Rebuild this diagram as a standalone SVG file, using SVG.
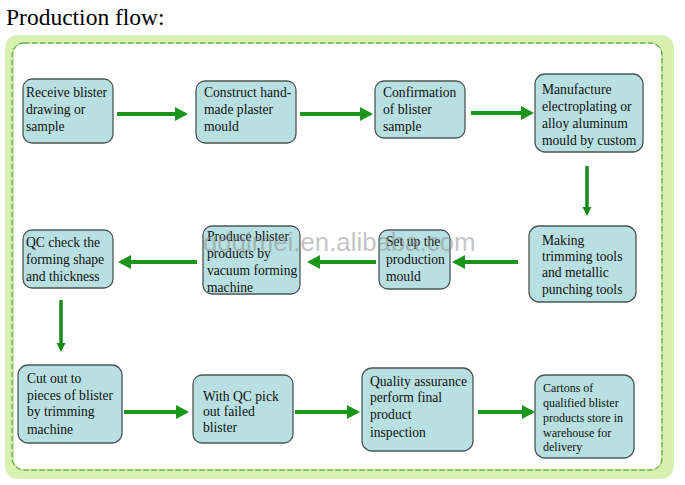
<svg xmlns="http://www.w3.org/2000/svg" width="685" height="485" viewBox="0 0 685 485">
<defs>
<style>
.node rect{fill:#b8dfe2;stroke:#4d5656;stroke-width:1.3}
.node text{fill:#111}
.conn line{stroke:#1b961b;stroke-width:4;fill:none}
.conn line.v{stroke:#178a1a;stroke-width:3.5}
</style>
<marker id="ah" markerUnits="userSpaceOnUse" markerWidth="14" markerHeight="14" refX="10" refY="7" orient="auto" viewBox="0 0 14 14">
<path d="M0,0 L13,7 L0,14 z" fill="#1b961b"/>
</marker>
<marker id="av" markerUnits="userSpaceOnUse" markerWidth="10" markerHeight="10" refX="6" refY="4.5" orient="auto" viewBox="0 0 10 10">
<path d="M0,0 L9,4.5 L0,9 z" fill="#178a1a"/>
</marker>
</defs>
<rect x="0" y="0" width="685" height="485" fill="#ffffff"/>
<text x="6" y="25" font-family="Liberation Serif,'Times New Roman',serif" font-size="23.5" fill="#000">Production flow:</text>
<g id="frame">
<rect x="5" y="35" width="669" height="444" rx="13" fill="#d8f1b3"/>
<rect x="13" y="43" width="649" height="427" rx="11" fill="#ffffff" stroke="#bfe38f" stroke-width="1.5"/>
<rect x="12" y="43" width="650" height="427" rx="12" fill="none" stroke="#3d9a2a" stroke-width="1" stroke-dasharray="5 3"/>
</g>
<g id="connectors" class="conn">
<line x1="117" y1="114" x2="185" y2="114" marker-end="url(#ah)"/>
<line x1="300" y1="114" x2="370" y2="114" marker-end="url(#ah)"/>
<line x1="471" y1="113" x2="531" y2="113" marker-end="url(#ah)"/>
<line class="v" x1="587" y1="166" x2="587" y2="213" marker-end="url(#av)"/>
<line x1="518" y1="262" x2="455" y2="262" marker-end="url(#ah)"/>
<line x1="376" y1="262" x2="310" y2="262" marker-end="url(#ah)"/>
<line x1="197" y1="262" x2="121" y2="262" marker-end="url(#ah)"/>
<line class="v" x1="61" y1="300" x2="61" y2="349" marker-end="url(#av)"/>
<line x1="124" y1="412" x2="186" y2="412" marker-end="url(#ah)"/>
<line x1="295" y1="412" x2="357" y2="412" marker-end="url(#ah)"/>
<line x1="478" y1="412" x2="532" y2="412" marker-end="url(#ah)"/>
</g>
<g font-family="Liberation Serif,'Times New Roman',serif" font-size="13.6">
<g id="n1" class="node"><rect x="23" y="79" width="90" height="64" rx="9"/>
<text x="26" y="97">Receive blister</text><text x="26" y="114">drawing or</text><text x="26" y="131">sample</text></g>
<g id="n2" class="node"><rect x="196" y="81" width="100" height="62" rx="9"/>
<text x="204" y="97">Construct hand-</text><text x="204" y="114">made plaster</text><text x="204" y="131">mould</text></g>
<g id="n3" class="node"><rect x="375" y="81" width="90" height="57" rx="9"/>
<text x="383" y="97">Confirmation</text><text x="383" y="114">of blister</text><text x="383" y="131">sample</text></g>
<g id="n4" class="node"><rect x="535" y="74" width="108" height="78" rx="10"/>
<text x="542" y="94">Manufacture</text><text x="542" y="111">electroplating or</text><text x="542" y="128">alloy aluminum</text><text x="542" y="145">mould by custom</text></g>
<g id="n5" class="node"><rect x="23" y="230" width="90" height="58" rx="9"/>
<text x="26" y="247">QC check the</text><text x="26" y="264">forming shape</text><text x="26" y="281">and thickness</text></g>
<g id="n6" class="node"><rect x="203" y="226" width="97" height="68" rx="9"/>
<text x="207" y="241">Produce blister</text><text x="207" y="258">products by</text><text x="207" y="275">vacuum forming</text><text x="207" y="292">machine</text></g>
<g id="n7" class="node"><rect x="379" y="230" width="71" height="59" rx="9"/>
<text x="386" y="246">Set up the</text><text x="386" y="264">production</text><text x="386" y="281">mould</text></g>
<g id="n8" class="node"><rect x="529" y="226" width="107" height="76" rx="10"/>
<text x="542" y="245">Making</text><text x="542" y="261">trimming tools</text><text x="542" y="277">and metallic</text><text x="542" y="294">punching tools</text></g>
<g id="n9" class="node"><rect x="18" y="365" width="104" height="78" rx="10"/>
<text x="27" y="383">Cut out to</text><text x="27" y="400">pieces of blister</text><text x="27" y="416">by trimming</text><text x="27" y="434">machine</text></g>
<g id="n10" class="node"><rect x="193" y="375" width="100" height="68" rx="9"/>
<text x="203" y="401">With QC pick</text><text x="203" y="416">out failed</text><text x="203" y="432">blister</text></g>
<g id="n11" class="node"><rect x="362" y="368" width="111" height="83" rx="10"/>
<text x="370" y="386">Quality assurance</text><text x="370" y="402">perform final</text><text x="370" y="419">product</text><text x="370" y="437">inspection</text></g>
<g id="n12" class="node" font-size="12"><rect x="535" y="375" width="99" height="83" rx="10"/>
<text x="543" y="392">Cartons of</text><text x="543" y="407">qualified blister</text><text x="543" y="422">products store in</text><text x="543" y="437">warehouse for</text><text x="543" y="451">delivery</text></g>
</g>
<text x="203" y="251" font-family="Liberation Sans,Arial,sans-serif" font-size="25.8" fill="#8a8a8a" fill-opacity="0.5">qdqimei.en.alibaba.com</text>
</svg>
